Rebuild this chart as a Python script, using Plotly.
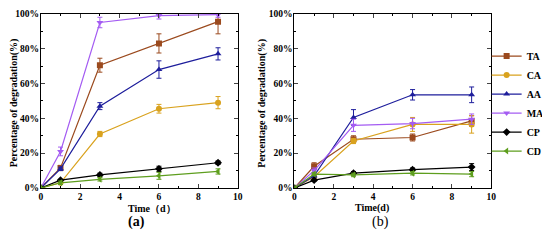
import plotly.graph_objects as go

days = [0, 1, 3, 6, 9]
names = ["TA", "CA", "AA", "MA", "CP", "CD"]
colors = ["#9B4A1E", "#D9A21E", "#1E1E9C", "#A45CF2", "#000000", "#5E9E1E"]
symbols = ["square", "circle", "triangle-up", "triangle-down", "diamond", "triangle-left"]

# panel (a)
a_vals = [
    [0, 11.5, 70.5, 83, 95.5],
    [0, 3, 31, 45.5, 49],
    [0, 11, 47, 68, 77],
    [0, 21, 95, 99, 99.5],
    [0, 4.5, 7.5, 11, 14.5],
    [0, 3, 5, 7, 9.5],
]
a_err = [
    [0, 1.5, 4, 5.5, 7],
    [0, 1, 1.5, 2.5, 3.5],
    [0, 1, 2, 5, 3.5],
    [0, 2.5, 3, 2, 1.5],
    [0, 0.5, 1, 1.5, 1],
    [0, 1, 1, 2, 1.5],
]
# panel (b)
b_vals = [
    [0, 12.5, 28, 29, 38.5],
    [0, 6.5, 27, 36.5, 36.5],
    [0, 7, 40.5, 53.5, 53.5],
    [0, 10, 36, 37, 39.5],
    [0, 4.5, 8.5, 10.5, 12],
    [0, 8, 7.5, 8.5, 8],
]
b_err = [
    [0, 2, 2, 2, 3],
    [0, 1, 1.5, 4, 5],
    [0, 1, 4.5, 3, 4.5],
    [0, 1.5, 3.5, 3, 3],
    [0, 0.5, 1, 1, 2],
    [0, 1, 1, 1, 1.5],
]

serif = "Liberation Serif"
bold10 = dict(family=serif, size=10, color="black", weight="bold")
tickf = dict(family=serif, size=9.5, color="black", weight="bold")

fig = go.Figure()


def add_panel(vals, errs, xa, ya, show):
    for i, name in enumerate(names):
        fig.add_trace(go.Scatter(
            x=days, y=vals[i], name=name, mode="lines+markers",
            line=dict(color=colors[i], width=1.2),
            marker=dict(symbol=symbols[i], size=6, color=colors[i]),
            error_y=dict(type="data", array=errs[i], color=colors[i], thickness=1, width=2.5),
            xaxis=xa, yaxis=ya, showlegend=show,
        ))


add_panel(a_vals, a_err, "x", "y", False)
add_panel(b_vals, b_err, "x2", "y2", True)

ax = dict(
    range=[0, 10], dtick=2, ticks="inside", ticklen=4, tickwidth=1,
    showline=True, mirror="allticks", linecolor="black", linewidth=1,
    showgrid=False, zeroline=False, automargin=False,
    minor=dict(ticks="inside", ticklen=2, dtick=1, tickcolor="black"),
    tickfont=tickf,
)
ay = dict(
    range=[0, 100], dtick=20, ticks="inside", ticklen=4, tickwidth=1,
    ticksuffix="%", showline=True, mirror="allticks", linecolor="black",
    linewidth=1, showgrid=False, zeroline=False, automargin=False,
    ticklabelstandoff=-1, ticklabeloverflow="allow",
    minor=dict(ticks="inside", ticklen=2, dtick=10, tickcolor="black"),
    tickfont=tickf,
)

# the page shows the figure offset by the body margin, so it is sized to the visible area
fig.update_layout(
    width=542, height=232,
    margin=dict(l=0, r=0, t=0, b=0),
    paper_bgcolor="white", plot_bgcolor="white",
    font=dict(family=serif, size=11, color="black"),
    xaxis=dict(ax, domain=[0.0609, 0.4262], anchor="y"),
    yaxis=dict(ay, domain=[0.2241, 0.975], anchor="x"),
    xaxis2=dict(ax, domain=[0.5314, 0.8967], anchor="y2"),
    yaxis2=dict(ay, domain=[0.2241, 0.975], anchor="x2"),
    legend=dict(x=0.888, y=0.588, xanchor="left", yanchor="middle",
                font=bold10, tracegroupgap=0, itemwidth=30,
                bgcolor="rgba(0,0,0,0)"),
    annotations=[
        dict(text="Time（d）", x=0.2196, y=0.104, xref="paper", yref="paper",
             showarrow=False, font=bold10),
        dict(text="Time(d)", x=0.710, y=0.104, xref="paper", yref="paper",
             showarrow=False, font=bold10),
        dict(text="(a)", x=0.2196, y=0.034, xref="paper", yref="paper",
             showarrow=False, font=dict(family=serif, size=14, weight="bold")),
        dict(text="(b)", x=0.710, y=0.034, xref="paper", yref="paper",
             showarrow=False, font=dict(family=serif, size=14)),
        dict(text="Percentage of degradation(%)", x=0.0115, y=0.59,
             xref="paper", yref="paper", xanchor="center", yanchor="middle",
             textangle=-90, showarrow=False, font=bold10),
        dict(text="Percentage of degradation(%)", x=0.4723, y=0.59,
             xref="paper", yref="paper", xanchor="center", yanchor="middle",
             textangle=-90, showarrow=False, font=bold10),
    ],
)

fig.write_html("out.html")
